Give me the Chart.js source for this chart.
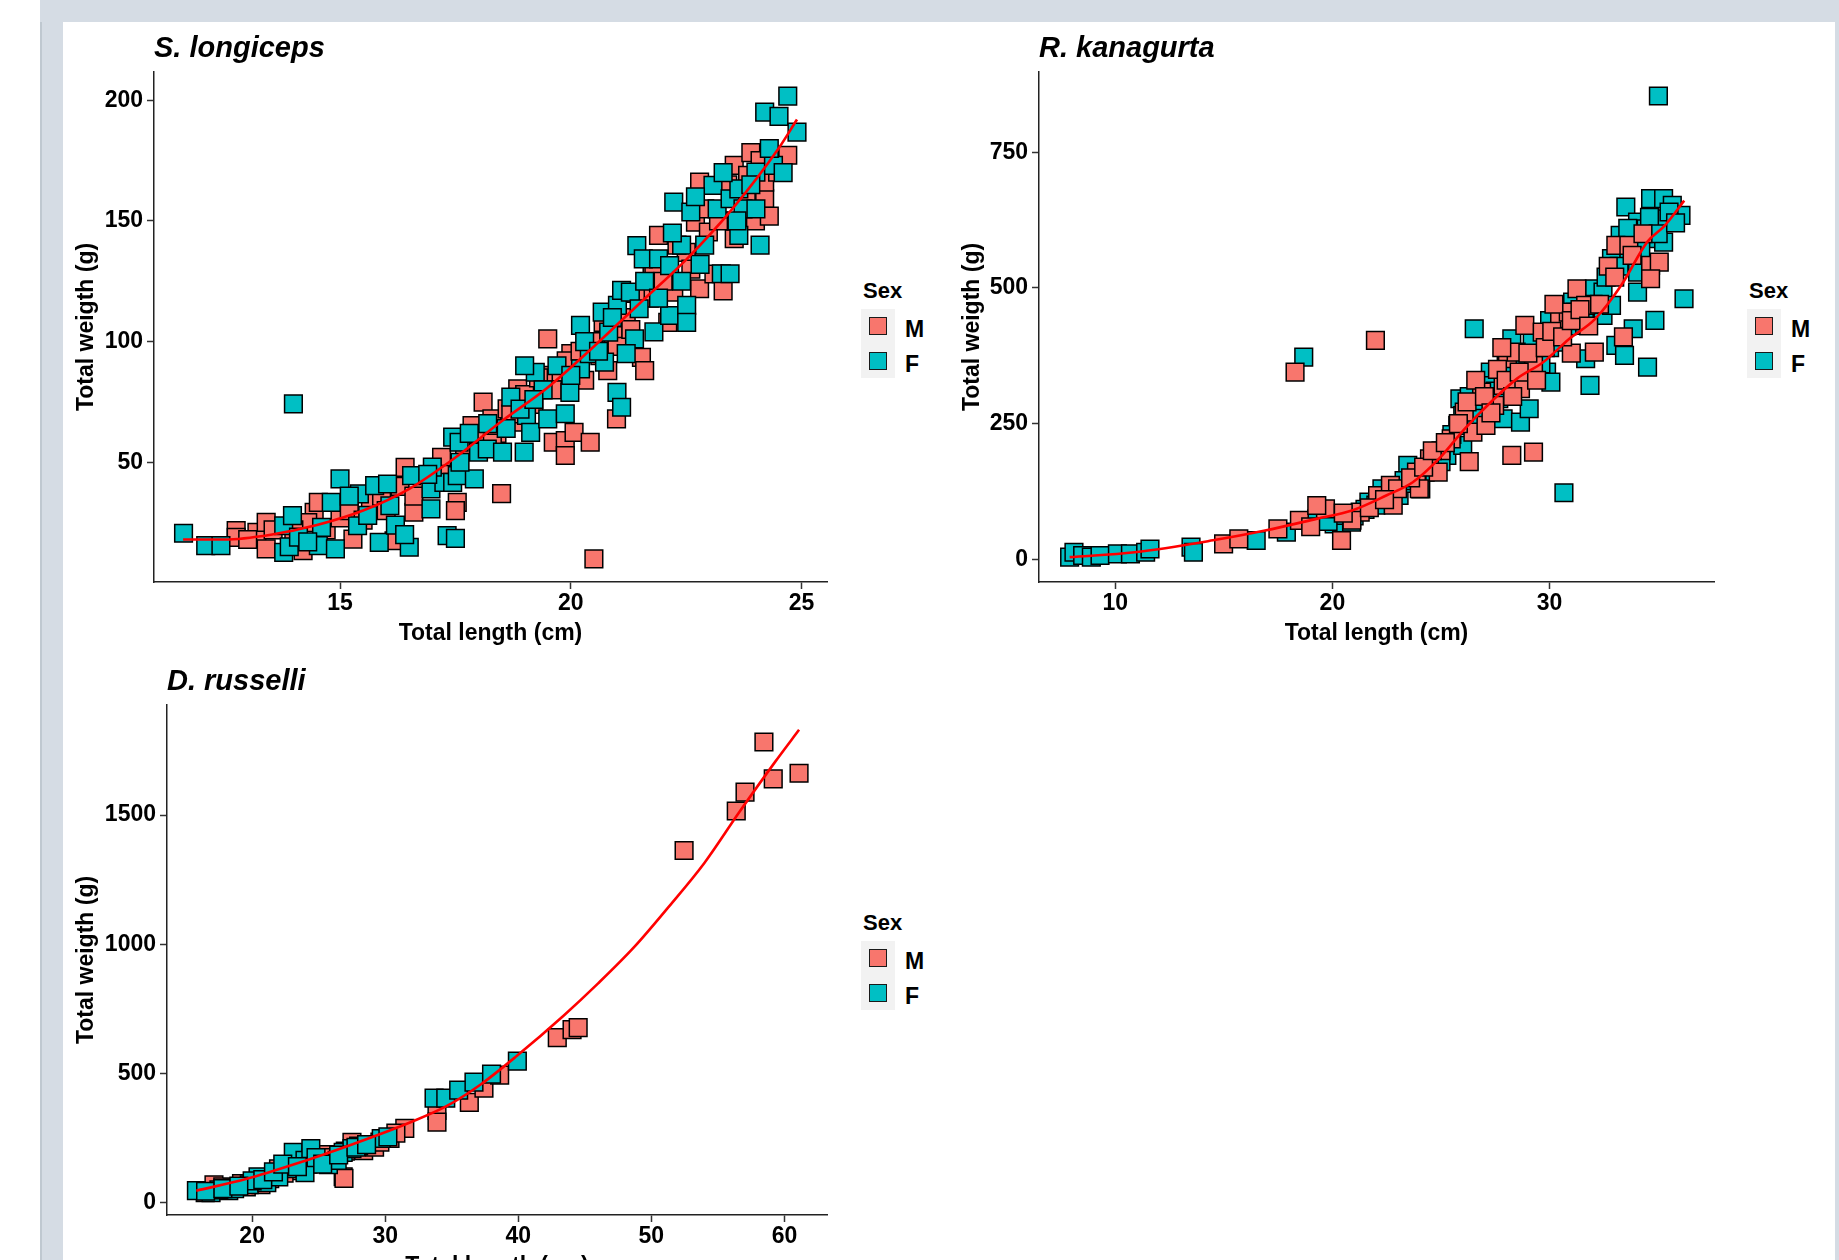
<!DOCTYPE html>
<html>
<head>
<meta charset="utf-8">
<title>Length-weight relationships</title>
<script src="https://cdn.jsdelivr.net/npm/chart.js@4.4.1/dist/chart.umd.min.js"></script>
<style>
html, body {
    margin: 0;
    padding: 0;
    width: 1839px;
    height: 1260px;
    overflow: hidden;
    background: #ffffff;
    font-family: "Liberation Sans", Arial, sans-serif;
}
.frame-left { position: absolute; left: 40px; top: 0; width: 23px; height: 1260px; background: #d5dce4; border-left: 2px solid #bfc8d0; box-sizing: border-box; }
.frame-top { position: absolute; left: 40px; top: 0; width: 1799px; height: 22px; background: #d5dce4; }
.frame-right { position: absolute; left: 1835px; top: 0; width: 4px; height: 1260px; background: #d5dce4; }
canvas { position: absolute; }
.legend { position: absolute; width: 80px; height: 110px; }
.legend .ltitle { position: absolute; left: 2px; top: 0; font-size: 22px; font-weight: bold; line-height: 28px; color: #000; }
.legend .keys { position: absolute; left: 0; top: 32px; width: 34px; height: 69px; background: #f2f2f2; }
.legend .key { position: absolute; left: 8px; width: 18px; height: 18px; box-sizing: border-box; border: 1.5px solid #1a1a1a; }
.legend .lab { position: absolute; left: 44px; font-size: 23px; font-weight: bold; line-height: 26px; color: #000; }
</style>
</head>
<body>
<div class="frame-left"></div>
<div class="frame-top"></div>
<div class="frame-right"></div>

<canvas id="chartLongiceps" width="780" height="630" style="left:63px;top:22px;width:780px;height:630px"></canvas>
<canvas id="chartKanagurta" width="781" height="630" style="left:949px;top:22px;width:781px;height:630px"></canvas>
<canvas id="chartRusselli" width="780" height="630" style="left:63px;top:655px;width:780px;height:630px"></canvas>

<div class="legend" style="left:861px;top:277px"></div>
<div class="legend" style="left:1747px;top:277px"></div>
<div class="legend" style="left:861px;top:909px"></div>

<script>
// ===============================
// DATA
// ===============================
const sexLabels = ["M", "F"];
const sexColors = ["#F8766D", "#00BFC4"];

// S. longiceps
const slTicksX = [15, 20, 25];
const slTicksY = [50, 100, 150, 200];
const slMale = [
    [12.75,21.7],[12.75,18.9],[13.2,21],[13.4,25.1],[13.4,14.1],[13.55,22],[14.2,13.4],[14.44,29.3],
    [14.53,33.4],[14.3,25],[14.7,22],[15.0,27],[15.28,18.2],[15.2,30],[15.66,33.4],[15.9,36],
    [16.17,17.5],[16.41,47.9],[16.6,29.3],[16.3,40],[17.07,47.2],[17.54,33.4],[17.2,52],[17.5,30],
    [17.86,65.2],[18.1,74.9],[18.29,68],[18.5,37],[18.62,72.1],[18.4,62],[18.8,66.6],[18.85,80.4],
    [19.2,74],[19.5,86],[19.62,58.3],[19.79,87.3],[19.88,59],[19.88,52.8],[20.07,62.4],[20.42,58.3],
    [20.5,10],[19.5,101.1],[20.0,95],[20.3,84],[20.63,94.2],[20.92,102.5],[20.99,68],[20.8,88],
    [21.2,110],[21.53,93.5],[21.6,88],[21.76,127.4],[21.9,144],[21.7,118],[22.1,108],[22.23,120.5],
    [22.5,137],[22.7,149.5],[22.79,121.9],[22.79,166.1],[22.98,145.4],[23.1,128],[23.3,121],[23.54,142.6],
    [23.54,173],[23.83,168.9],[23.9,178.3],[24.0,150],[24.2,159.2],[24.2,166.1],[24.3,173],[24.48,170.2],
    [24.7,177.2],[24.3,152],[23.6,160],
    [16.8,42],[17.3,45],[17.7,55],[18.0,60],[18.3,58],[18.7,70],[19.0,78],[19.3,85],
    [19.6,80],[19.9,92],[20.2,96],[20.5,100],[20.7,108],[21.0,98],[21.3,105],[21.4,120],
    [21.8,130],[22.0,125],[22.3,140],[22.6,130],[22.9,155],[23.2,150],[23.4,165],[23.8,160],
    [24.1,175],[15.5,26],[16.0,30],[14.0,22],[13.0,18],[16.6,36]
];
const slFemale = [
    [11.61,20.6],[12.09,15.5],[12.42,15.5],[13.78,23.7],[13.78,12.7],[13.97,27.9],[13.99,74.2],[13.9,15],
    [14.1,19],[14.53,15.5],[14.81,33.4],[14.9,14.1],[14.6,23],[15.0,43.1],[15.38,23.7],[15.42,36.9],
    [15.75,40.3],[15.85,16.8],[16.03,41],[16.08,32],[16.5,14.8],[16.55,44.5],[16.2,24],[16.97,39],
    [16.97,30.7],[17.25,41.7],[17.32,19.6],[17.44,41.7],[17.5,18.5],[17.44,60.4],[17.54,44.5],[17.58,58.3],
    [17.91,43.1],[18.0,54.2],[18.19,55.5],[18.52,54.2],[18.99,54.2],[18.7,77],[19.04,69.4],[19.13,62.4],
    [19.23,87.3],[19.5,68],[19.4,80],[19.88,70.1],[19.98,79],[20.21,88.7],[20.21,106.7],[20.4,95],
    [20.68,112.2],[20.73,91.5],[20.82,103.9],[21.0,79],[21.01,115],[21.1,72.8],[21.1,121.2],[21.29,120.5],
    [21.38,101.1],[21.43,139.8],[21.48,113.6],[21.57,134.3],[21.9,134.3],[21.8,104],[22.14,131.5],[22.14,110.8],
    [22.23,157.8],[22.51,115],[22.51,108],[22.4,140],[22.6,153.7],[22.8,132],[23.08,164.7],[23.17,155],
    [23.26,128.1],[23.45,128.1],[23.45,159.2],[23.64,144],[23.64,163.3],[23.73,155],[24.01,155],[24.01,170.2],
    [24.2,195.1],[24.39,173],[24.51,193.3],[24.7,201.7],[24.9,186.8],[24.1,140],
    [17.0,48],[17.6,50],[17.8,62],[18.2,66],[18.6,64],[18.9,72],[19.2,76],[19.7,90],
    [20.0,86],[20.3,100],[20.6,96],[20.9,110],[21.2,95],[21.6,125],[21.9,118],[22.2,145],
    [22.4,125],[22.7,160],[22.9,140],[23.3,170],[23.6,150],[23.9,165],[24.3,180],[24.6,170],
    [15.2,36],[15.6,28],[14.3,17],[16.4,20],[16.9,45],[19.0,90]
];
const slFitX = [11.6, 12.5, 13.5, 14.5, 15.5, 16.5, 17.5, 18.5, 19.5, 20.5, 21.5, 22.5, 23.5, 24.5, 24.9];
const slFitY = [18, 18, 20, 24, 30, 39, 52, 67, 81, 98, 116, 134, 155, 180, 192];

// R. kanagurta
const rkTicksX = [10, 20, 30];
const rkTicksY = [0, 250, 500, 750];
const rkMale = [
    [14.99,28.6],[15.69,37.8],[17.49,56.2],[18.28,345],[18.48,71.6],[19.68,93.1],[19.28,99.2],[20.42,34.7],
    [21.28,86.9],[21.98,403.4],[22.08,117.6],[22.67,136.1],[23.87,160.7],[24.47,185.3],[24.87,160.7],[25.47,222.1],
    [26.07,271.3],[26.47,234.4],[26.87,308.1],[27.07,246.7],[27.47,283.6],[27.86,320.4],[28.06,369.6],[28.46,381.9],
    [28.66,314.3],[28.26,191.4],[29.26,197.5],[29.26,357.3],[28.86,431],[29.66,418.7],[30.46,443.3],[30.86,455.6],
    [31.26,498.6],[31.66,467.9],[32.06,381.9],[33.05,578.5],[33.65,578.5],[34.65,541.6],[35.05,547.8],[34.65,517],
    [25.0,200],[27.8,390],[30.2,470],[31.0,380],[33.4,410],[22.8,100],[20.9,72],[24.0,130],[26.3,180],[32.7,540],
    [23.0,130],[23.6,150],[24.2,170],[24.6,200],[25.2,215],[25.8,250],[26.2,290],[26.6,330],
    [27.0,300],[27.3,270],[27.6,350],[28.0,330],[28.3,300],[28.6,345],[29.0,380],[29.4,330],
    [29.8,390],[30.1,420],[30.6,410],[31.0,440],[31.4,460],[31.8,430],[32.3,470],[33.0,520],
    [33.8,560],[34.3,600],[19.0,60],[20.5,85],[21.7,95],[22.4,110]
];
const rkFemale = [
    [7.9,4],[8.1,13],[8.5,7],[8.9,4],[9.3,7],[10.1,10],[10.7,10],[11.4,13],[11.6,19],[13.49,22.4],[13.6,13],
    [16.49,34.7],[17.88,50],[18.68,372.6],[19.28,74.6],[20.08,65.4],[20.48,80.8],[20.88,68.5],[21.68,105.4],[22.28,129.9],
    [23.07,117.6],[23.47,173],[24.07,129.9],[24.27,160.7],[25.27,191.4],[25.77,246.7],[25.87,295.9],[26.47,259],
    [26.53,424.9],[26.67,283.6],[27.27,345],[27.66,295.9],[27.86,259],[28.26,357.3],[28.26,406.5],[28.66,252.8],
    [29.06,277.4],[29.46,406.5],[29.86,345],[30.06,326.6],[30.26,437.2],[30.66,122.6],[31.06,474],[31.26,431],
    [31.66,369.6],[31.86,320.4],[32.06,498.6],[32.46,449.4],[32.46,492.5],[32.85,467.9],[32.85,554],[33.05,394.2],
    [33.25,596.9],[33.45,375.7],[33.51,649.2],[33.65,554],[33.85,424.9],[34.05,529.3],[34.05,492.5],[34.05,621.5],
    [34.45,609.2],[34.51,354.2],[34.65,664.5],[34.85,590.8],[34.85,440.2],[35.01,853.8],[35.25,664.5],[35.25,584.6],
    [35.25,627.6],[35.65,652.2],[36.05,633.8],[36.19,480.2],[26.0,210],[28.0,300],[30.0,390],[23.5,140],
    [19.8,70],[21.0,80],[21.5,92],[22.0,100],[22.7,120],[23.3,145],[23.9,160],[24.5,175],
    [25.0,180],[25.5,230],[26.0,265],[26.3,300],[26.8,260],[27.1,320],[27.5,310],[28.0,360],
    [28.4,340],[28.8,370],[29.2,400],[29.6,360],[30.0,440],[30.4,400],[30.8,430],[31.2,455],
    [31.6,440],[32.0,470],[32.6,520],[33.2,540],[33.6,610],[34.2,570],[34.6,630],[35.0,600],
    [35.5,640],[35.8,620]
];
const rkFitX = [7.9, 10.9, 14.5, 16.9, 19.3, 20.9, 22.5, 23.7, 24.9, 26.1, 27.3, 28.5, 29.7, 30.9, 32.1, 33.3, 34.5, 35.3, 36.2];
const rkFitY = [4, 13, 35, 53, 75, 90, 118, 142, 185, 241, 290, 333, 363, 406, 443, 505, 585, 615, 661];

// D. russelli
const drTicksX = [20, 30, 40, 50, 60];
const drTicksY = [0, 500, 1000, 1500];
const drMale = [
    [16.47,39],[17.13,70],[17.79,62],[19.56,62],[20.66,70],[21.32,93.5],[21.76,109],[21.98,132],
    [23.53,125],[25.07,164],[25.51,187],[26.84,101],[27.5,234],[28.38,202],[29.2,215],[30.36,249],
    [31.47,288],[33.89,358],[33.89,312],[36.32,389],[37.42,444],[38.6,494],[42.93,639],[44.04,670],
    [44.5,678],[52.46,1363],[56.38,1516],[57.04,1589],[58.46,1783],[59.16,1640],[61.1,1662],[26.9,95],[24.2,150],
    [18.5,58],[19.2,75],[20.2,80],[21.0,95],[22.4,115],[23.0,140],[24.6,160],[26.0,175],
    [27.0,200],[28.0,220],[29.6,235],[30.8,270]
];
const drFemale = [
    [15.81,47],[16.91,39],[18.24,47],[18.68,55],[19.78,70],[20.44,101],[21.1,78],[22.65,132],
    [23.09,195],[23.97,164],[23.97,117],[24.41,210],[25.73,148],[26.39,164],[26.84,195],[27.5,210],
    [29.7,249],[33.67,405],[34.55,405],[35.52,436],[36.67,467],[37.99,498],[39.93,548],[17.5,50],[20.0,85],[22.0,100],
    [16.5,45],[17.8,55],[19.0,65],[20.8,90],[21.6,120],[22.3,150],[23.4,140],[24.8,175],
    [25.3,150],[26.5,185],[27.8,215],[28.6,225],[30.2,255]
];
const drFitX = [15.8, 19.6, 23.1, 27.5, 31.9, 34.6, 37.2, 39.9, 43.4, 46.0, 48.7, 51.3, 54.0, 56.6, 59.3, 61.1];
const drFitY = [47, 93, 148, 226, 312, 374, 459, 569, 724, 849, 989, 1145, 1316, 1511, 1706, 1830];

// ===============================
// CHART HELPERS
// ===============================
Chart.defaults.font.family = '"Liberation Sans", Arial, sans-serif';

function toPoints(pairs) {
    return pairs.map(p => ({ x: p[0], y: p[1] }));
}

function buildChart(canvasId, title, male, female, fitX, fitY, xRange, yRange, ticksX, ticksY, yAxisWidth, maleOnTop) {
    const ctx = document.getElementById(canvasId).getContext("2d");

    const pointStyleFor = (color) => ({
        backgroundColor: color,
        borderColor: "#000000",
        borderWidth: 1.5,
        pointStyle: "rect",
        pointRadius: 12.5,
        pointHoverRadius: 12.5
    });

    // lower order is painted last (on top)
    const maleOrder = maleOnTop ? 1 : 2;
    const femaleOrder = maleOnTop ? 2 : 1;

    return new Chart(ctx, {
        type: "scatter",
        data: {
            datasets: [
                {
                    label: "fit",
                    type: "line",
                    data: fitX.map((x, i) => ({ x: x, y: fitY[i] })),
                    borderColor: "#ff0000",
                    borderWidth: 2.6,
                    pointRadius: 0,
                    fill: false,
                    cubicInterpolationMode: "monotone",
                    order: 0
                },
                Object.assign({ label: sexLabels[1], data: toPoints(female), order: femaleOrder }, pointStyleFor(sexColors[1])),
                Object.assign({ label: sexLabels[0], data: toPoints(male), order: maleOrder }, pointStyleFor(sexColors[0]))
            ]
        },
        options: {
            responsive: false,
            animation: false,
            devicePixelRatio: 1,
            layout: { padding: { left: 0, right: 16, top: 0, bottom: 0 } },
            plugins: {
                legend: { display: false },
                tooltip: { enabled: false },
                title: {
                    display: true,
                    text: title,
                    align: "start",
                    fullSize: false,
                    color: "#000000",
                    font: { size: 29, weight: "bold", style: "italic", lineHeight: 1.2 },
                    padding: { top: 10, bottom: 5.2 }
                }
            },
            scales: {
                x: {
                    type: "linear",
                    min: xRange[0],
                    max: xRange[1],
                    afterBuildTicks: s => { s.ticks = ticksX.map(v => ({ value: v })); },
                    afterFit: s => { s.height = 70; },
                    grid: { drawOnChartArea: false, tickLength: 7, color: "#333333", tickWidth: 1.5 },
                    border: { display: true, color: "#222222", width: 1.5 },
                    ticks: { color: "#000000", font: { size: 23, weight: "bold" }, padding: 1, maxRotation: 0, callback: v => String(v) },
                    title: {
                        display: true,
                        text: "Total length (cm)",
                        color: "#000000",
                        font: { size: 23, weight: "bold", lineHeight: 1.2 },
                        padding: { top: 0, bottom: 5 }
                    }
                },
                y: {
                    type: "linear",
                    min: yRange[0],
                    max: yRange[1],
                    afterBuildTicks: s => { s.ticks = ticksY.map(v => ({ value: v })); },
                    afterFit: s => { s.width = yAxisWidth; },
                    grid: { drawOnChartArea: false, tickLength: 7, color: "#333333", tickWidth: 1.5 },
                    border: { display: true, color: "#222222", width: 1.5 },
                    ticks: { color: "#000000", font: { size: 23, weight: "bold" }, padding: 4, callback: v => String(v) },
                    title: {
                        display: true,
                        text: "Total weigth (g)",
                        color: "#000000",
                        font: { size: 23, weight: "bold", lineHeight: 1.2 },
                        padding: { top: 10, bottom: 0 }
                    }
                }
            }
        }
    });
}

function buildLegend(box) {
    let html = '<div class="ltitle">Sex</div><div class="keys">';
    sexLabels.forEach((lab, i) => {
        html += `<div class="key" style="top:${8 + i * 35}px;background:${sexColors[i]}"></div>`;
    });
    html += "</div>";
    sexLabels.forEach((lab, i) => {
        html += `<div class="lab" style="top:${39 + i * 35}px">${lab}</div>`;
    });
    box.innerHTML = html;
}

// ===============================
// DOM READY
// ===============================
document.addEventListener("DOMContentLoaded", () => {
    buildChart("chartLongiceps", "S. longiceps", slMale, slFemale, slFitX, slFitY,
        [10.97, 25.55], [0.4, 211.7], slTicksX, slTicksY, 91, false);
    buildChart("chartKanagurta", "R. kanagurta", rkMale, rkFemale, rkFitX, rkFitY,
        [6.49, 37.57], [-41.8, 898], rkTicksX, rkTicksY, 90, true);
    buildChart("chartRusselli", "D. russelli", drMale, drFemale, drFitX, drFitY,
        [13.6, 63.2], [-47, 1926], drTicksX, drTicksY, 104, false);

    document.querySelectorAll(".legend").forEach(buildLegend);
});
</script>
</body>
</html>
